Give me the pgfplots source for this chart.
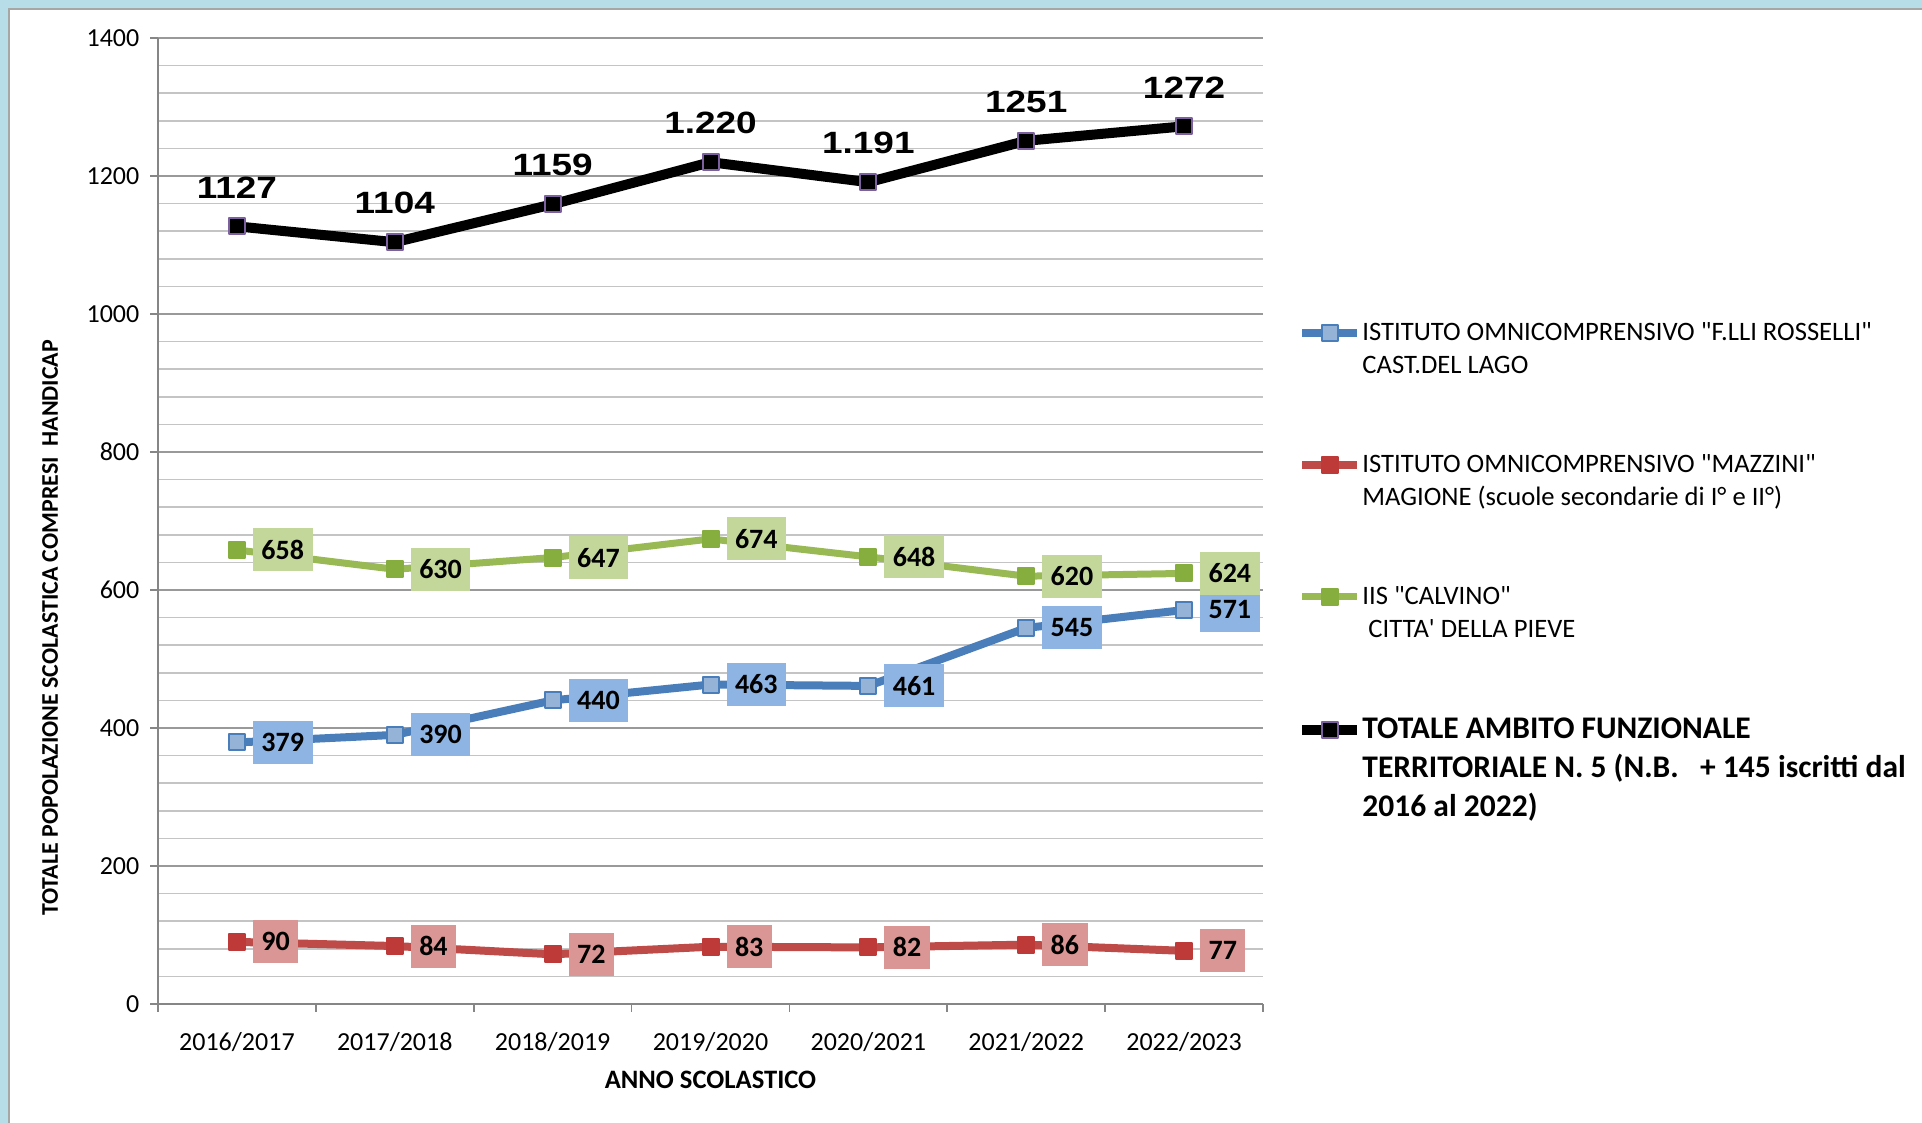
\documentclass[border=0pt]{standalone}
\usepackage{fontspec}
\setmainfont{Carlito}
\newfontfamily\arialfont{Liberation Sans}
\usepackage{graphicx}
\usepackage{pgfplots}
\pgfplotsset{compat=1.18}
\pgfplotsset{/pgf/number format/assume math mode=true}

\definecolor{panelblue}{HTML}{B7DDE8}
\definecolor{panelborder}{HTML}{A6A6A6}
\definecolor{majgrid}{HTML}{999999}
\definecolor{mingrid}{HTML}{C4C4C4}
\definecolor{axisgray}{HTML}{868686}
\definecolor{blueline}{HTML}{4A7EBB}
\definecolor{bluemark}{HTML}{95B3D7}
\definecolor{bluebox}{HTML}{8DB4E2}
\definecolor{redline}{HTML}{BE4B48}
\definecolor{redmark}{HTML}{BE3A38}
\definecolor{redbox}{HTML}{DA9694}
\definecolor{greenline}{HTML}{98B954}
\definecolor{greenmark}{HTML}{86AE3E}
\definecolor{greenbox}{HTML}{C4D79B}
\definecolor{purplemark}{HTML}{7D60A0}

\begin{document}
\begin{tikzpicture}
\path[use as bounding box] (0,0) rectangle (961pt,561.5pt);
\fill[panelblue] (0,0) rectangle (961pt,561.5pt);
\filldraw[fill=white,draw=panelborder,line width=0.8pt] (4.6pt,-10pt) rectangle (975pt,557pt);
\begin{axis}[
  at={(79pt,59.5pt)}, anchor=south west,
  scale only axis, width=552.5pt, height=483pt,
  clip=false,
  xmin=-0.5, xmax=6.5, ymin=0, ymax=1400,
  axis x line*=bottom, axis y line*=left,
  axis line style={draw=axisgray, line width=0.8pt, -},
  x axis line style={-}, y axis line style={-},
  xtick={-0.5,0.5,...,6.5}, xticklabels={},
  extra x ticks={0,1,2,3,4,5,6},
  extra x tick labels={2016/2017,2017/2018,2018/2019,2019/2020,2020/2021,2021/2022,2022/2023},
  extra x tick style={grid=none, tick style={draw=none}},
  ytick={0,200,...,1400},
  minor ytick={40,80,...,1360},
  ymajorgrids, yminorgrids,
  major grid style={draw=majgrid, line width=0.8pt},
  minor grid style={draw=mingrid, line width=0.8pt},
  tick align=outside, major tick length=4pt, minor tick length=0pt,
  tick style={draw=axisgray, line width=0.8pt},
  /pgf/number format/1000 sep={},
  yticklabel style={font=\fontsize{13}{13}\selectfont, text=black, xshift=-1.8pt},
  xticklabel style={font=\fontsize{13}{13}\selectfont, text=black, yshift=-6.7pt},
  ylabel={TOTALE POPOLAZIONE SCOLASTICA COMPRESI\ \ HANDICAP},
  ylabel style={at={(axis description cs:-0.0977,0.3893)}, anchor=center, font=\bfseries\fontsize{11.95}{11.95}\selectfont},
  xlabel={ANNO SCOLASTICO},
  xlabel style={at={(axis description cs:0.5,0)}, anchor=center, yshift=-38pt, font=\bfseries\fontsize{13.3}{13.3}\selectfont},
  legend cell align=left,
  legend style={at={(axis description cs:1.0308,0.706)}, anchor=north west, draw=none, fill=none, inner sep=0pt, row sep=55.5pt, column sep=0pt, nodes={inner sep=0pt}},
  legend image code/.code={\draw[#1, mark repeat=2, mark phase=2] plot coordinates {(0pt,0pt) (13.75pt,0pt) (27.5pt,0pt)};},
]
\addplot[color=blueline, line width=4pt, line join=round, mark=square*, mark size=4pt,
  mark options={fill=bluemark, draw=blueline, line width=1pt, solid},
  nodes near coords,
  nodes near coords style={anchor=west, xshift=7.5pt, fill=bluebox, text=black, inner xsep=4.25pt, inner ysep=0pt, minimum height=21.5pt, font=\bfseries\fontsize{14}{14}\selectfont}]
  coordinates {(0,379) (1,390) (2,440) (3,463) (4,461) (5,545) (6,571)};
\addlegendentry{\parbox[t]{300pt}{\fontsize{13.3}{16.5}\selectfont ISTITUTO OMNICOMPRENSIVO \textquotedbl F.LLI ROSSELLI\textquotedbl\\CAST.DEL LAGO}}
\addplot[color=redline, line width=4pt, line join=round, mark=square*, mark size=4pt,
  mark options={fill=redmark, draw=redmark, line width=1pt, solid},
  nodes near coords,
  nodes near coords style={anchor=west, xshift=7.5pt, fill=redbox, text=black, inner xsep=4.25pt, inner ysep=0pt, minimum height=21.5pt, font=\bfseries\fontsize{14}{14}\selectfont}]
  coordinates {(0,90) (1,84) (2,72) (3,83) (4,82) (5,86) (6,77)};
\addlegendentry{\parbox[t]{300pt}{\fontsize{13.3}{16.5}\selectfont ISTITUTO OMNICOMPRENSIVO \textquotedbl MAZZINI\textquotedbl\\MAGIONE (scuole secondarie di I° e II°)}}
\addplot[color=greenline, line width=3.5pt, line join=round, mark=square*, mark size=4pt,
  mark options={fill=greenmark, draw=greenmark, line width=1pt, solid},
  nodes near coords,
  nodes near coords style={anchor=west, xshift=7.5pt, fill=greenbox, text=black, inner xsep=4.25pt, inner ysep=0pt, minimum height=21.5pt, font=\bfseries\fontsize{14}{14}\selectfont}]
  coordinates {(0,658) (1,630) (2,647) (3,674) (4,648) (5,620) (6,624)};
\addlegendentry{\parbox[t]{300pt}{\fontsize{13.3}{16.5}\selectfont IIS \textquotedbl CALVINO\textquotedbl\\\hspace*{3pt}CITTA\textquotesingle{} DELLA PIEVE}}
\addplot[color=black, line width=5pt, line join=round, mark=square*, mark size=4pt,
  mark options={fill=black, draw=purplemark, line width=1pt, solid},
  point meta=explicit symbolic,
  nodes near coords={\scalebox{1.2}[1]{\pgfplotspointmeta}},
  nodes near coords style={anchor=center, yshift=19.5pt, text=black, inner sep=0pt, font=\arialfont\bfseries\fontsize{15.4}{15.4}\selectfont}]
  coordinates {(0,1127) [1127] (1,1104) [1104] (2,1159) [1159] (3,1220) [1.220] (4,1191) [1.191] (5,1251) [1251] (6,1272) [1272]};
\addlegendentry{\parbox[t]{300pt}{\bfseries\fontsize{15.75}{19.3}\selectfont TOTALE AMBITO FUNZIONALE\\TERRITORIALE N. 5 (N.B.\ \ \ + 145 iscritti dal\\2016 al 2022)}}
\end{axis}
\end{tikzpicture}
\end{document}
